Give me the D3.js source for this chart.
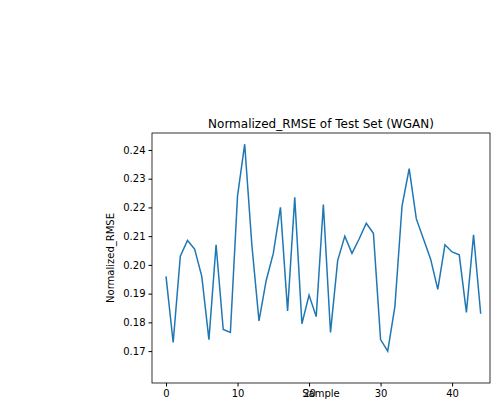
<!DOCTYPE html>
<html><head><meta charset="utf-8">
<script src="https://cdn.jsdelivr.net/npm/d3@7"></script>
<style>body{margin:0;background:#fff}text{font-family:"DejaVu Sans",sans-serif}</style>
</head><body><svg id="chart" width="498" height="401"></svg>
<script>
// RMSE per test sample
const rmse = [0.196,0.173,0.203,0.2085,0.2055,0.196,0.174,0.207,0.1775,0.1765,
  0.224,0.242,0.207,0.1805,0.1945,0.204,0.220,0.184,0.2235,0.1795,
  0.1895,0.182,0.221,0.1765,0.2015,0.210,0.204,0.209,0.2145,0.211,
  0.174,0.170,0.1855,0.2205,0.2335,0.216,0.209,0.202,0.1915,0.207,
  0.2045,0.2035,0.1835,0.2105,0.183];
const xTicks = [0,10,20,30,40];
const yTicks = [0.17,0.18,0.19,0.20,0.21,0.22,0.23,0.24];

const plotL = 152, plotR = 490, plotT = 133, plotB = 383;
const svg = d3.select("#chart");

const x = d3.scaleLinear().domain([-1.96, 45.3]).range([plotL, plotR]);
const y = d3.scaleLinear().domain([0.1589, 0.2459]).range([plotB, plotT]);

svg.append("g").attr("transform", `translate(0,${plotB})`)
  .call(d3.axisBottom(x).tickValues(xTicks).tickSize(3.5).tickSizeOuter(0))
  .call(g => g.select(".domain").remove())
  .selectAll("text").style("font-size", "10px");

svg.append("g").attr("transform", `translate(${plotL},0)`)
  .call(d3.axisLeft(y).tickValues(yTicks).tickFormat(d3.format(".2f")).tickSize(3.5).tickSizeOuter(0))
  .call(g => g.select(".domain").remove())
  .selectAll("text").style("font-size", "10px");

// frame
svg.append("rect").attr("x", plotL).attr("y", plotT)
  .attr("width", plotR - plotL).attr("height", plotB - plotT)
  .attr("fill", "none").attr("stroke", "#000").attr("stroke-width", 0.8);

svg.append("path").datum(rmse)
  .attr("fill", "none").attr("stroke", "#1f77b4").attr("stroke-width", 1.5)
  .attr("d", d3.line().x((d, i) => x(i)).y(d => y(d)));

svg.append("text").attr("x", (plotL + plotR) / 2).attr("y", 128)
  .attr("text-anchor", "middle").style("font-size", "12px")
  .text("Normalized_RMSE of Test Set (WGAN)");
svg.append("text").attr("x", (plotL + plotR) / 2).attr("y", 397)
  .attr("text-anchor", "middle").style("font-size", "10px").text("Sample");
svg.append("text").attr("transform", `translate(${plotL - 38},${(plotT + plotB) / 2}) rotate(-90)`)
  .attr("text-anchor", "middle").style("font-size", "10px").text("Normalized_RMSE");
</script></body></html>
